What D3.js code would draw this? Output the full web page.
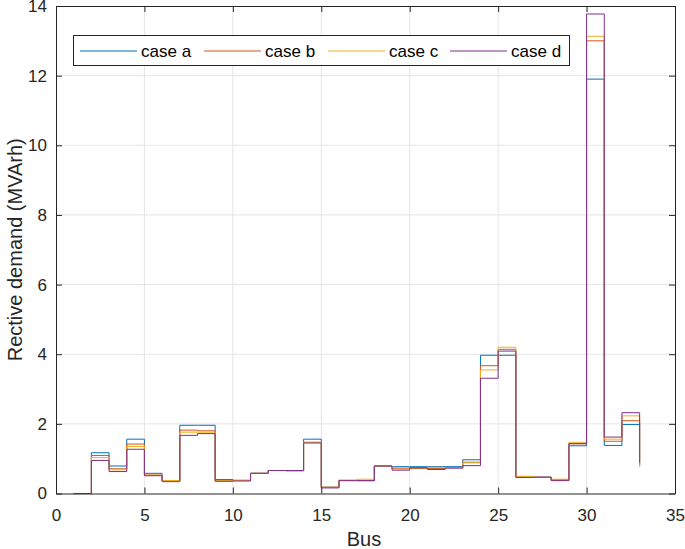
<!DOCTYPE html>
<html><head><meta charset="utf-8">
<script src="https://cdn.jsdelivr.net/npm/d3@7"></script>
<style>body{margin:0;background:#fff}svg{display:block;font-family:"Liberation Sans",Arial,sans-serif}</style>
</head><body><svg id="c" width="685" height="549"></svg>
<script>
const buses = d3.range(1, 34);
const caseA = [0,1.17,0.79,1.56,0.58,0.37,1.96,1.96,0.40,0.38,0.58,0.66,0.66,1.56,0.18,0.37,0.37,0.79,0.77,0.77,0.77,0.77,0.97,3.97,3.97,0.49,0.47,0.38,1.37,11.9,1.38,1.98,0.80];
const caseB = [0,1.09,0.71,1.42,0.53,0.37,1.82,1.80,0.37,0.37,0.58,0.66,0.66,1.47,0.18,0.38,0.37,0.79,0.71,0.72,0.72,0.74,0.90,3.67,4.14,0.48,0.46,0.37,1.43,13.0,1.50,2.09,0.82];
const caseC = [0,1.03,0.68,1.35,0.53,0.37,1.76,1.76,0.37,0.37,0.58,0.66,0.64,1.47,0.18,0.38,0.41,0.79,0.74,0.74,0.75,0.74,0.88,3.55,4.20,0.49,0.47,0.41,1.47,13.13,1.56,2.23,0.76];
const caseD = [0,0.95,0.63,1.27,0.51,0.34,1.67,1.72,0.35,0.36,0.58,0.66,0.66,1.45,0.16,0.37,0.37,0.79,0.67,0.74,0.69,0.73,0.80,3.31,4.09,0.46,0.47,0.38,1.43,13.77,1.62,2.32,0.88];
const seriesNames = ["case a","case b","case c","case d"];
const seriesColors = ["#0072BD","#D95319","#EDB120","#7E2F8E"];
const xTicks = [0,5,10,15,20,25,30,35];
const yTicks = [0,2,4,6,8,10,12,14];

const svg = d3.select("#c");
const L = 56, R = 675, T = 6, B = 493.5;
const x = d3.scaleLinear().domain([0,35]).range([L,R]);
const y = d3.scaleLinear().domain([0,14]).range([B,T]);

// grid
const g = svg.append("g");
g.selectAll(".gx").data(xTicks.slice(1,-1)).enter().append("line")
 .attr("x1",d=>x(d)).attr("x2",d=>x(d)).attr("y1",T).attr("y2",B)
 .attr("stroke","#e6e6e6").attr("stroke-width",1);
g.selectAll(".gy").data(yTicks.slice(1,-1)).enter().append("line")
 .attr("y1",d=>y(d)).attr("y2",d=>y(d)).attr("x1",L).attr("x2",R)
 .attr("stroke","#e6e6e6").attr("stroke-width",1);

// lines
const line = d3.line().x(d=>x(d[0])).y(d=>y(d[1])).curve(d3.curveStepAfter);
[caseA,caseB,caseC,caseD].forEach((vals,i)=>{
  svg.append("path").datum(buses.map((b,j)=>[b,vals[j]]))
   .attr("d",line).attr("fill","none").attr("stroke",seriesColors[i]).attr("stroke-width",1);
});

// axes
const axB = d3.axisBottom(x).tickValues(xTicks).tickSizeInner(-6).tickSizeOuter(0).tickPadding(15);
const axL = d3.axisLeft(y).tickValues(yTicks).tickSizeInner(-6).tickSizeOuter(0).tickPadding(9);
const axT = d3.axisTop(x).tickValues(xTicks).tickSizeInner(-6).tickSizeOuter(0).tickFormat("");
const axR = d3.axisRight(y).tickValues(yTicks).tickSizeInner(-6).tickSizeOuter(0).tickFormat("");
function style(sel){
  sel.selectAll("path").attr("stroke","#262626").attr("stroke-width",1);
  sel.selectAll("line").attr("stroke","#262626").attr("stroke-width",1);
  sel.selectAll("text").attr("fill","#262626").style("font-size","17px").style("font-family","Liberation Sans, Arial, sans-serif");
}
svg.append("g").attr("transform",`translate(0,${B})`).call(axB).call(style);
svg.append("g").attr("transform",`translate(${L},0)`).call(axL).call(style);
svg.append("g").attr("transform",`translate(0,${T})`).call(axT).call(style);
svg.append("g").attr("transform",`translate(${R},0)`).call(axR).call(style);

// labels
svg.append("text").attr("x",364).attr("y",546).attr("text-anchor","middle")
 .attr("fill","#262626").style("font-size","20px").text("Bus");
svg.append("text").attr("transform",`translate(22,${(T+B)/2}) rotate(-90)`).attr("text-anchor","middle")
 .attr("fill","#262626").style("font-size","20px").text("Rective demand (MVArh)");

// legend
const lg = svg.append("g");
lg.append("rect").attr("x",73.5).attr("y",35.5).attr("width",496).attr("height",30)
 .attr("fill","#fff").attr("stroke","#262626").attr("stroke-width",1);
const legX = [80,204,328,450];
seriesNames.forEach((n,i)=>{
  lg.append("line").attr("x1",legX[i]).attr("x2",legX[i]+57).attr("y1",51).attr("y2",51)
   .attr("stroke",seriesColors[i]).attr("stroke-width",1);
  lg.append("text").attr("x",legX[i]+61).attr("y",57).attr("fill","#000")
   .style("font-size","17px").text(n);
});
</script></body></html>
